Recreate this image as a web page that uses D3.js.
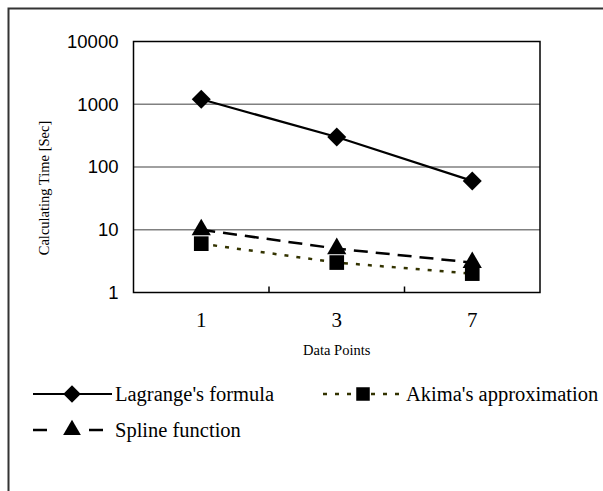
<!DOCTYPE html>
<html><head><meta charset="utf-8">
<script src="https://cdn.jsdelivr.net/npm/d3@7"></script>
<style>body{margin:0;background:#fff}svg{display:block}</style>
</head><body>
<script>
const categories = ["1", "3", "7"];
const lagrange = [1200, 300, 60];
const spline = [10, 5, 3];
const akima = [6, 3, 2];
const yTicks = [1, 10, 100, 1000, 10000];

(function () {
const W = 603, H = 491;
const svg = d3.select("body").append("svg").attr("width", W).attr("height", H);
svg.append("rect").attr("x", 8.5).attr("y", 8.5).attr("width", 640).attr("height", 540)
  .attr("fill", "none").attr("stroke", "#333").attr("stroke-width", 2);

const pLeft = 133.5, pRight = 540, pTop = 41.5, pBottom = 292.5;
const x = d3.scaleBand().domain(categories).range([pLeft, pRight]);
const y = d3.scaleLog().domain([1, 10000]).range([pBottom, pTop]);

svg.append("g").selectAll("line").data(yTicks.filter(t => t > 1 && t < 10000)).join("line")
  .attr("x1", pLeft).attr("x2", pRight).attr("y1", d => y(d)).attr("y2", d => y(d))
  .attr("stroke", "#808080").attr("stroke-width", 1.5);

svg.append("rect").attr("x", pLeft).attr("y", pTop).attr("width", pRight - pLeft).attr("height", pBottom - pTop)
  .attr("fill", "none").attr("stroke", "#000").attr("stroke-width", 1.5);

const yAxis = d3.axisLeft(y).tickValues(yTicks).tickFormat(d3.format("d")).tickSize(0).tickPadding(15);
const ya = svg.append("g").attr("transform", `translate(${pLeft},0)`).call(yAxis);
ya.select(".domain").remove();
ya.selectAll("text").attr("font-family", "Liberation Sans, Arial, sans-serif").attr("font-size", 18.5).attr("fill", "#000");

const xa = svg.append("g").attr("transform", `translate(0,${pBottom})`)
  .call(d3.axisBottom(x).tickSize(0).tickPadding(20));
xa.select(".domain").remove();
xa.selectAll("text").attr("font-family", "Liberation Serif, Times New Roman, serif").attr("font-size", 21).attr("fill", "#000");
svg.append("g").selectAll("line").data(categories.slice(1)).join("line")
  .attr("x1", d => x(d)).attr("x2", d => x(d)).attr("y1", pBottom).attr("y2", pBottom - 6)
  .attr("stroke", "#000").attr("stroke-width", 1.5);

svg.append("text").attr("x", (pLeft + pRight) / 2).attr("y", 355).attr("text-anchor", "middle")
  .attr("font-family", "Liberation Serif, Times New Roman, serif").attr("font-size", 14.5).text("Data Points");
svg.append("text").attr("transform", "translate(49,188) rotate(-90)").attr("text-anchor", "middle")
  .attr("font-family", "Liberation Serif, Times New Roman, serif").attr("font-size", 14.5).text("Calculating Time [Sec]");

const cx = d => x(d) + x.bandwidth() / 2;
const series = [
  {name: "Akima's approximation", values: akima, color: "#333300", dash: "4,8", legDash: "4,8", width: 2.5, sym: d3.symbolSquare, size: 215, rot: 0},
  {name: "Spline function", values: spline, color: "#000", dash: "14,8", legDash: "14,42", width: 2.5, sym: d3.symbolTriangle, size: 160, rot: 0},
  {name: "Lagrange's formula", values: lagrange, color: "#000", dash: null, legDash: null, width: 2.2, sym: d3.symbolSquare, size: 180, rot: 45},
];
const line = d3.line().x(d => cx(d.c)).y(d => y(d.v));
series.forEach(s => {
  const pts = categories.map((c, i) => ({c, v: s.values[i]}));
  svg.append("path").datum(pts).attr("d", line).attr("fill", "none").attr("stroke", s.color)
    .attr("stroke-width", s.width).attr("stroke-dasharray", s.dash);
  svg.append("g").selectAll("path").data(pts).join("path")
    .attr("transform", d => `translate(${cx(d.c)},${y(d.v)}) rotate(${s.rot})`)
    .attr("d", d3.symbol(s.sym, s.size)).attr("fill", "#000");
});

const leg = [
  {s: series[2], x0: 33, x1: 112, mx: 72, ty: 394, tx: 115},
  {s: series[0], x0: 323, x1: 404, mx: 363, ty: 394, tx: 406},
  {s: series[1], x0: 33, x1: 103, mx: 72, ty: 430, tx: 115},
];
leg.forEach(l => {
  svg.append("line").attr("x1", l.x0).attr("x2", l.x1).attr("y1", l.ty).attr("y2", l.ty)
    .attr("stroke", l.s.color).attr("stroke-width", l.s.width).attr("stroke-dasharray", l.s.legDash);
  svg.append("path").attr("transform", `translate(${l.mx},${l.ty}) rotate(${l.s.rot})`)
    .attr("d", d3.symbol(l.s.sym, l.s.size * 0.85)).attr("fill", "#000");
  svg.append("text").attr("x", l.tx).attr("y", l.ty).attr("dy", "0.35em")
    .attr("font-family", "Liberation Serif, Times New Roman, serif").attr("font-size", 20.5).text(l.s.name);
});
})();
</script>
</body></html>
